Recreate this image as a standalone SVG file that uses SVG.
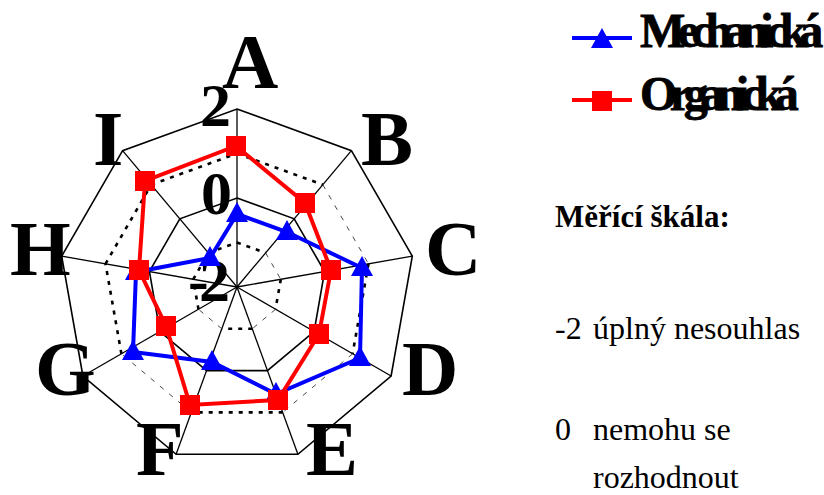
<svg xmlns="http://www.w3.org/2000/svg" xmlns:xlink="http://www.w3.org/1999/xlink" width="824" height="495" viewBox="0 0 824 495">
<style>
.grid{fill:none;stroke:#000;stroke-width:1.6;stroke-linejoin:miter}
.spoke{stroke:#000;stroke-width:1.3}
.dk{stroke:#000;stroke-width:2.6;stroke-dasharray:4 6;fill:none}
.dt{stroke:#333;stroke-width:0.9;stroke-dasharray:5 7;fill:none}
.axl{font-family:"Liberation Serif","Times New Roman",serif;font-weight:bold;font-size:78px;fill:#000}
.val{font-family:"Liberation Serif","Times New Roman",serif;font-weight:bold;font-size:62px;fill:#000}
.blue{fill:none;stroke:#0000ff;stroke-width:4;stroke-linejoin:miter}
.red{fill:none;stroke:#ff0000;stroke-width:4;stroke-linejoin:miter}
.tri{fill:#0000ff}
.sq{fill:#ff0000}
.leg{font-family:"Liberation Serif","Times New Roman",serif;font-weight:bold;font-size:48px;fill:#000;stroke:#000;stroke-width:0.8}
.note{font-family:"Liberation Serif","Times New Roman",serif;font-size:32px;fill:#000}
.noteb{font-family:"Liberation Serif","Times New Roman",serif;font-weight:bold;font-size:31px;fill:#000}
</style>
<defs>
<path id="tri" d="M0,-12 L11,8 L-11,8 Z"/>
<rect id="sq" x="-10" y="-10" width="20" height="20"/>
</defs>
<rect width="824" height="495" fill="#fff"/>

<g id="grid">
<polygon class="grid" points="237,109 351.4,150.7 412.3,256.1 391.1,376 297.9,454.3 176.1,454.3 82.9,376 61.7,256.1 122.6,150.7"/>
<polygon class="grid" points="237,198 294.2,218.8 324.6,271.5 314.1,331.5 267.4,370.6 206.6,370.6 159.9,331.5 149.4,271.5 179.8,218.8"/>
<g class="spoke">
<line x1="237" y1="287" x2="237" y2="109"/>
<line x1="237" y1="287" x2="351.4" y2="150.7"/>
<line x1="237" y1="287" x2="412.3" y2="256.1"/>
<line x1="237" y1="287" x2="391.1" y2="376"/>
<line x1="237" y1="287" x2="297.9" y2="454.3"/>
<line x1="237" y1="287" x2="176.1" y2="454.3"/>
<line x1="237" y1="287" x2="82.9" y2="376"/>
<line x1="237" y1="287" x2="61.7" y2="256.1"/>
<line x1="237" y1="287" x2="122.6" y2="150.7"/>
</g>
<g id="ring1">
<line class="dk" x1="237" y1="153.5" x2="322.8" y2="184.7"/>
<line class="dt" x1="322.8" y1="184.7" x2="368.5" y2="263.8"/>
<line class="dk" x1="368.5" y1="263.8" x2="352.6" y2="353.8"/>
<line class="dt" x1="352.6" y1="353.8" x2="282.7" y2="412.4"/>
<line class="dk" x1="282.7" y1="412.4" x2="191.3" y2="412.4"/>
<line class="dt" x1="191.3" y1="412.4" x2="121.4" y2="353.8"/>
<line class="dk" x1="121.4" y1="353.8" x2="105.5" y2="263.8"/>
<line class="dk" x1="105.5" y1="263.8" x2="151.2" y2="184.7"/>
<line class="dk" x1="151.2" y1="184.7" x2="237" y2="153.5"/>
</g>
<g id="ringm1">
<line class="dk" x1="237" y1="242.5" x2="265.6" y2="252.9"/>
<line class="dt" x1="265.6" y1="252.9" x2="280.8" y2="279.3"/>
<line class="dk" x1="280.8" y1="279.3" x2="275.5" y2="309.3"/>
<line class="dt" x1="275.5" y1="309.3" x2="252.2" y2="328.8"/>
<line class="dk" x1="252.2" y1="328.8" x2="221.8" y2="328.8"/>
<line class="dt" x1="221.8" y1="328.8" x2="198.5" y2="309.3"/>
<line class="dk" x1="198.5" y1="309.3" x2="193.2" y2="279.3"/>
<line class="dk" x1="193.2" y1="279.3" x2="208.4" y2="252.9"/>
<line class="dk" x1="208.4" y1="252.9" x2="237" y2="242.5"/>
</g>
</g>

<g id="axis-labels">
<text class="axl" x="222" y="88">A</text>
<text class="axl" x="361" y="165">B</text>
<text class="axl" x="425" y="275">C</text>
<text class="axl" x="402" y="395">D</text>
<text class="axl" x="306" y="475">E</text>
<text class="axl" x="136" y="475">F</text>
<text class="axl" x="35" y="395">G</text>
<text class="axl" x="10" y="275">H</text>
<text class="axl" x="93" y="165">I</text>
</g>
<g id="value-labels">
<text class="val" x="200" y="126">2</text>
<text class="val" x="201" y="214">0</text>
<text class="val" x="188" y="301">-<tspan x="199">2</tspan></text>
</g>

<g id="series-mechanicka">
<polygon class="blue" points="237,214 287,232 362,268 360,358 276,394 212,362 133,352 136,272 210,258"/>
<use xlink:href="#tri" href="#tri" class="tri" x="237" y="214"/>
<use xlink:href="#tri" href="#tri" class="tri" x="287" y="232"/>
<use xlink:href="#tri" href="#tri" class="tri" x="362" y="268"/>
<use xlink:href="#tri" href="#tri" class="tri" x="360" y="358"/>
<use xlink:href="#tri" href="#tri" class="tri" x="276" y="394"/>
<use xlink:href="#tri" href="#tri" class="tri" x="212" y="362"/>
<use xlink:href="#tri" href="#tri" class="tri" x="133" y="352"/>
<use xlink:href="#tri" href="#tri" class="tri" x="136" y="272"/>
<use xlink:href="#tri" href="#tri" class="tri" x="210" y="258"/>
</g>
<g id="series-organicka">
<polygon class="red" points="236,146 305,203 331,270 319,334 278,400 190,405 166,326 139,270 145,181"/>
<use xlink:href="#sq" href="#sq" class="sq" x="236" y="146"/>
<use xlink:href="#sq" href="#sq" class="sq" x="305" y="203"/>
<use xlink:href="#sq" href="#sq" class="sq" x="331" y="270"/>
<use xlink:href="#sq" href="#sq" class="sq" x="319" y="334"/>
<use xlink:href="#sq" href="#sq" class="sq" x="278" y="400"/>
<use xlink:href="#sq" href="#sq" class="sq" x="190" y="405"/>
<use xlink:href="#sq" href="#sq" class="sq" x="166" y="326"/>
<use xlink:href="#sq" href="#sq" class="sq" x="139" y="270"/>
<use xlink:href="#sq" href="#sq" class="sq" x="145" y="181"/>
</g>

<g id="legend">
<line x1="572" y1="38" x2="632" y2="38" stroke="#0000ff" stroke-width="4"/>
<use xlink:href="#tri" href="#tri" class="tri" x="602" y="40"/>
<text class="leg" x="640" y="47" letter-spacing="-7.5">Mechanická</text>
<line x1="572" y1="100" x2="632" y2="100" stroke="#ff0000" stroke-width="4"/>
<use xlink:href="#sq" href="#sq" class="sq" x="602" y="101"/>
<text class="leg" x="640" y="110" letter-spacing="-7.5">Organická</text>
</g>

<g id="scale-note">
<text class="noteb" x="555" y="227">Měřící škála:</text>
<text class="note" x="555" y="339">-2</text>
<text class="note" x="593" y="339">úplný nesouhlas</text>
<text class="note" x="555" y="440">0</text>
<text class="note" x="593" y="440">nemohu se</text>
<text class="note" x="593" y="488">rozhodnout</text>
</g>
</svg>
